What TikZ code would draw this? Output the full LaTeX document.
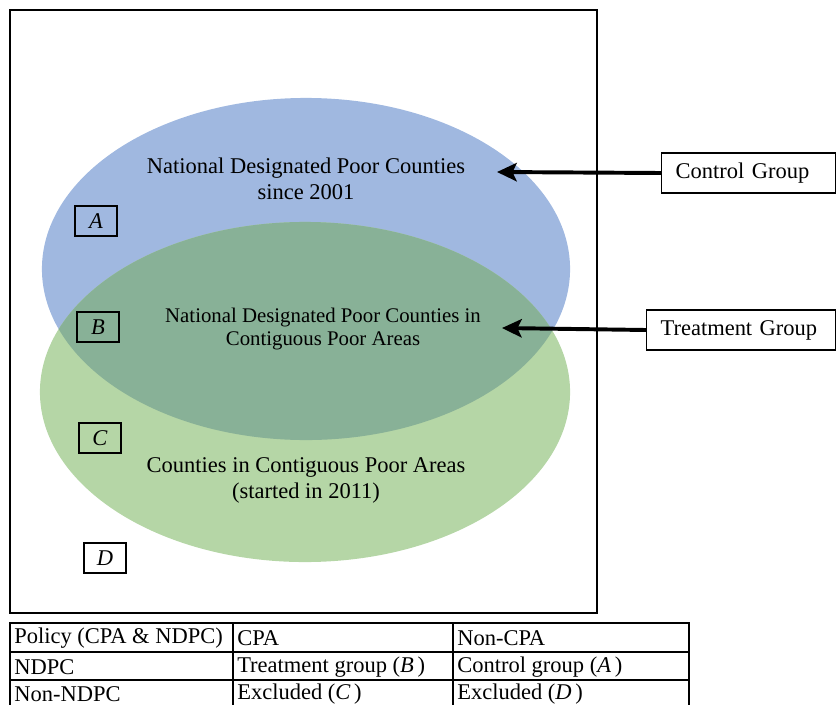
\documentclass[tikz,border=0pt]{standalone}
\usepackage{fontspec}
\setmainfont{Liberation Serif}
\usetikzlibrary{arrows.meta}

\definecolor{ndpcblue}{HTML}{A0B8E0}
\definecolor{cpagreen}{HTML}{B5D6A6}
\definecolor{bothgreen}{HTML}{88B197}

\begin{document}
\begin{tikzpicture}[
  x=0.025cm, y=-0.025cm,
  font=\fontsize{16}{18.5}\selectfont,
  tag/.style={draw,line width=0.8pt,minimum width=1.05cm,minimum height=0.75cm,inner sep=0pt,font=\fontsize{16}{18}\selectfont\itshape},
  grouplabel/.style={draw,line width=0.8pt,anchor=west,minimum height=1cm,inner xsep=0.35cm,align=left},
  pointer/.style={line width=2.8pt,-{Stealth[length=14pt,width=13pt,inset=3pt]}},
  cell/.style={anchor=west,inner sep=0pt,font=\fontsize{16}{18}\selectfont}
]
  \useasboundingbox (0,0) rectangle (837,705);
  \clip (0,0) rectangle (837,705);

  % the two sets
  \fill[ndpcblue] (306,269) ellipse [x radius=6.6cm, y radius=4.275cm];
  \fill[cpagreen] (305,392) ellipse [x radius=6.625cm, y radius=4.25cm];
  \begin{scope}
    \clip (306,269) ellipse [x radius=6.6cm, y radius=4.275cm];
    \fill[bothgreen] (305,392) ellipse [x radius=6.625cm, y radius=4.25cm];
  \end{scope}
  \draw[line width=0.8pt] (10,10) rectangle (597,613);

  \node[align=center] (ndpc) at (306,179) {National Designated Poor Counties\\since 2001};
  \node[align=center,font=\fontsize{14.8}{17}\selectfont] (both) at (323,329) {National Designated Poor Counties in\\Contiguous Poor Areas};
  \node[align=center] (cpa) at (306,480) {Counties in Contiguous Poor Areas\\(started in 2011)};

  \node[tag] (tagA) at (96,221) {A};
  \node[tag] (tagB) at (98,327) {B};
  \node[tag] (tagC) at (100,438) {C};
  \node[tag] (tagD) at (105,558) {D};

  % group labels on the right
  \node[grouplabel,text width=3.65cm] (ctrl) at (661,173) {Control Group};
  \node[grouplabel,text width=4.025cm] (treat) at (646,330) {Treatment Group};
  \coordinate (ctrltip) at (497,172);
  \coordinate (treattip) at (502,328);
  \draw[pointer] (ctrl.west) -- (ctrltip);
  \draw[pointer] (treat.west) -- (treattip);

  % table
  \draw[line width=0.8pt] (10,623) rectangle (689,709);
  \foreach \y in {652,680} \draw[line width=0.8pt] (10,\y) -- (689,\y);
  \foreach \x in {233,453} \draw[line width=0.8pt] (\x,623) -- (\x,709);
  \node[cell] (h1) at (14,638) {Policy (CPA \& NDPC)};
  \node[cell] (h2) at (237,638) {CPA};
  \node[cell] (h3) at (457,638) {Non-CPA};
  \node[cell] (r1) at (14,667) {NDPC};
  \node[cell] (r1b) at (237,667) {Treatment group (\textit{B\,})};
  \node[cell] (r1c) at (457,667) {Control group (\textit{A\,})};
  \node[cell] (r2) at (14,694) {Non-NDPC};
  \node[cell] (r2b) at (237,694) {Excluded (\textit{C\,})};
  \node[cell] (r2c) at (457,694) {Excluded (\textit{D\,})};
\end{tikzpicture}
\end{document}
